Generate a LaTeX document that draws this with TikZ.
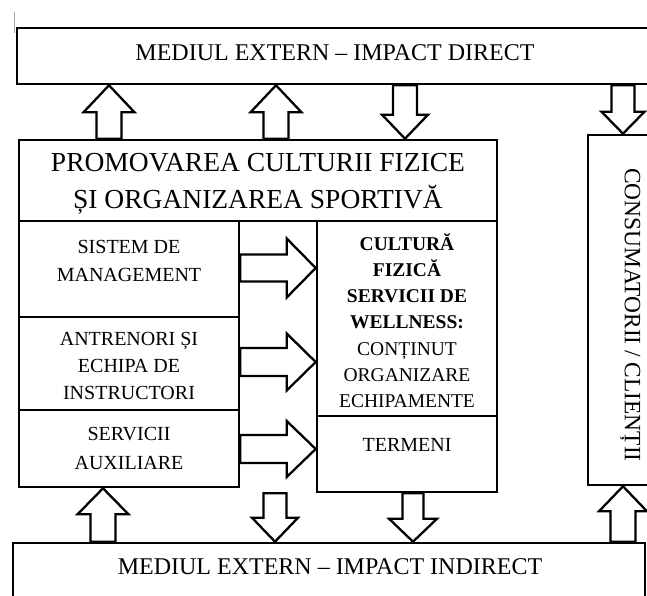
\documentclass[tikz,border=0pt]{standalone}
\usepackage{fontspec}
\setmainfont{Liberation Serif}
\usetikzlibrary{calc}
\tikzset{
  box/.style={draw=black, line width=2.6pt, rectangle, inner sep=0pt},
  lbl/.style={text=black, align=center, inner sep=0pt},
  barrowline/.style={draw=black, line width=2.3pt, fill=white, line join=miter},
}
% block arrow from (#1) to (#2): shaft half width #3, head half width #4, head length #5
\newcommand{\blockarr}[5]{%
  \coordinate (bh) at ($(#2)!#5!(#1)$);
  \draw[barrowline] ($(#1)!#3!90:(#2)$) -- ($(bh)!#3!90:(#2)$) -- ($(bh)!#4!90:(#2)$) -- (#2)
     -- ($(bh)!#4!-90:(#2)$) -- ($(bh)!#3!-90:(#2)$) -- ($(#1)!#3!-90:(#2)$) -- cycle;
}
\begin{document}
\begin{tikzpicture}[x=1pt,y=-1pt]
\useasboundingbox (0,0) rectangle (647,596);
\clip (0,0) rectangle (647,596);
\fill[white] (0,0) rectangle (647,596);
% small mark at top left
\draw[gray!70, line width=1pt] (14,12) -- (14,33);
% boxes
\node[box, minimum width=643pt, minimum height=56pt] (top) at (338.5,56) {};
\node[lbl, font=\fontsize{24}{28}\selectfont] (toptxt) at (335,53) {MEDIUL EXTERN – IMPACT DIRECT};

\node[box, minimum width=478pt, minimum height=81pt] (prom) at (258,180.5) {};
\node[lbl, font=\fontsize{27.5}{37}\selectfont] (promtxt) at (258,183.5) {PROMOVAREA CULTURII FIZICE\\ȘI ORGANIZAREA SPORTIVĂ};

\node[box, minimum width=220pt, minimum height=96pt] (r1) at (129,269) {};
\node[box, minimum width=220pt, minimum height=93pt] (r2) at (129,363.5) {};
\node[box, minimum width=220pt, minimum height=77pt] (r3) at (129,448.5) {};
\node[lbl, font=\fontsize{20}{28}\selectfont] (r1txt) at (129,261) {SISTEM DE\\MANAGEMENT};
\node[lbl, font=\fontsize{20}{27}\selectfont] (r2txt) at (129,366) {ANTRENORI ȘI\\ECHIPA DE\\INSTRUCTORI};
\node[lbl, font=\fontsize{20}{29}\selectfont] (r3txt) at (129,448) {SERVICII\\AUXILIARE};

\node[box, minimum width=180pt, minimum height=195pt] (u) at (407,318.5) {};
\node[box, minimum width=180pt, minimum height=76pt] (l) at (407,454) {};
\node[lbl, font=\fontsize{19.5}{26.2}\selectfont] (utxt) at (407,320.5)
  {\textbf{CULTURĂ}\\\textbf{FIZICĂ}\\\textbf{SERVICII DE}\\\textbf{WELLNESS:}\\CONȚINUT\\ORGANIZARE\\ECHIPAMENTE};
\node[lbl, font=\fontsize{20}{26}\selectfont] (ltxt) at (407,445) {TERMENI};

\node[box, minimum width=72pt, minimum height=350pt] (cons) at (624,310) {};
\node[lbl, font=\fontsize{23.4}{28}\selectfont, rotate=-90] (constxt) at (630,315) {CONSUMATORII / CLIENȚII};

\node[box, minimum width=632pt, minimum height=80pt] (bot) at (329,583) {};
\node[lbl, font=\fontsize{24}{28}\selectfont] (bottxt) at (330,567) {MEDIUL EXTERN – IMPACT INDIRECT};

% connector end points on box borders
\coordinate (a1s) at (109,0 |- prom.north);
\coordinate (a1e) at (109,0 |- top.south);
\coordinate (a2s) at (276,0 |- prom.north);
\coordinate (a2e) at (276,0 |- top.south);
\coordinate (a3s) at (405,0 |- top.south);
\coordinate (a3e) at (405,0 |- prom.north);
\coordinate (a4s) at (623,0 |- top.south);
\coordinate (a4e) at (623,0 |- cons.north);

\coordinate (b1s) at (103,0 |- bot.north);
\coordinate (b1e) at (103,0 |- r3.south);
\coordinate (b2s) at (275,0 |- l.south);
\coordinate (b2e) at (275,0 |- bot.north);
\coordinate (b3s) at (413,0 |- l.south);
\coordinate (b3e) at (413,0 |- bot.north);
\coordinate (b4s) at (623,0 |- bot.north);
\coordinate (b4e) at (623,0 |- cons.south);

\coordinate (h1s) at (r1.east |- 0,268);
\coordinate (h1e) at (u.west |- 0,268);
\coordinate (h2s) at (r2.east |- 0,362);
\coordinate (h2e) at (u.west |- 0,362);
\coordinate (h3s) at (r3.east |- 0,449);
\coordinate (h3e) at (l.west |- 0,449);

% vertical block arrows
\blockarr{a1s}{a1e}{12.5pt}{25.5pt}{27pt}
\blockarr{a2s}{a2e}{12.5pt}{25.5pt}{27pt}
\blockarr{a3s}{a3e}{12pt}{23pt}{24pt}
\blockarr{a4s}{a4e}{11.5pt}{21.5pt}{22pt}
\blockarr{b1s}{b1e}{12.5pt}{25.5pt}{26pt}
\blockarr{b2s}{b2e}{11.5pt}{23pt}{24pt}
\blockarr{b3s}{b3e}{10.5pt}{24pt}{23pt}
\blockarr{b4s}{b4e}{12.5pt}{24pt}{25pt}
% horizontal block arrows
\blockarr{h1s}{h1e}{13.5pt}{29.5pt}{29pt}
\blockarr{h2s}{h2e}{14pt}{28.5pt}{29pt}
\blockarr{h3s}{h3e}{14pt}{28pt}{29pt}
\end{tikzpicture}
\end{document}
